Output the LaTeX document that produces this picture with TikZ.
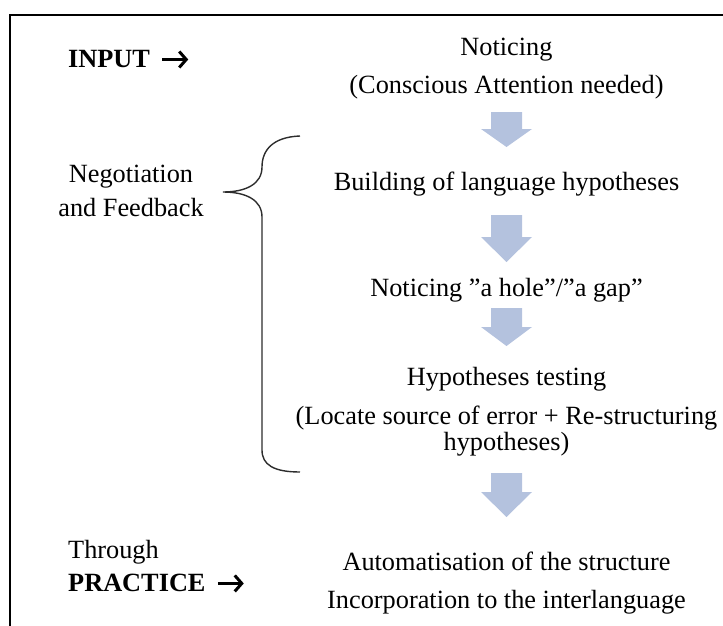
\documentclass[tikz,border=0pt]{standalone}
\usepackage{fontspec}
\setmainfont{Liberation Serif}
\usetikzlibrary{arrows.meta}
\definecolor{flowblue}{RGB}{180,194,222}
\definecolor{bracegray}{RGB}{45,45,45}
\newcommand{\dq}{{\char"0022}}
% block arrow pointing down: top, start of head, tip (y values)
\newcommand{\flowarrow}[3]{%
  \fill[blockarrow] (491,#1) -- (522,#1) -- (522,#2) -- (532,#2) -- (506.5,#3)
    -- (481,#2) -- (491,#2) -- cycle;}
\begin{document}
\begin{tikzpicture}[x=1pt,y=-1pt,
  txt/.style={font=\fontsize{26.3}{30}\selectfont, inner sep=0pt, anchor=base},
  boldtxt/.style={txt, font=\fontsize{26.3}{30}\selectfont\bfseries, anchor=base west},
  blockarrow/.style={fill=flowblue},
  frame/.style={line width=2pt, black},
  pointer/.style={line width=3pt, -{Straight Barb[length=7pt,width=16pt]}},
  bracestyle/.style={line width=1.4pt, bracegray}]
\useasboundingbox (0,0) rectangle (723,626);

% outer frame (open to the right and bottom)
\draw[frame] (723,15.5) -- (10,15.5) -- (10,626);

% main column
\node[txt] (notice)  at (506.5,56)  {Noticing};
\node[txt] (consc)   at (506.5,93)  {(Conscious Attention needed)};
\node[txt] (build)   at (506.5,190) {Building of language hypotheses};
\node[txt] (gap)     at (506.5,296) {Noticing \dq a hole\dq/\dq a gap\dq};
\node[txt] (test)    at (506.5,385) {Hypotheses testing};
\node[txt] (locate)  at (506.5,424) {(Locate source of error + Re-structuring};
\node[txt] (hyp)     at (506.5,450) {hypotheses)};
\node[txt] (auto)    at (506.5,570) {Automatisation of the structure};
\node[txt] (incorp)  at (506.5,608) {Incorporation to the interlanguage};

% block arrows between the stages
\flowarrow{112}{129}{147}
\flowarrow{215}{237}{262}
\flowarrow{308}{327}{346}
\flowarrow{473}{492}{517}

% left column
\node[boldtxt] (input) at (68,67) {INPUT};
\coordinate (inA) at ([xshift=12pt,yshift=-1pt]input.east);
\coordinate (inB) at ([xshift=38pt,yshift=-1pt]input.east);
\draw[pointer] (inA) -- (inB);

\node[txt] (nego) at (131,182) {Negotiation};
\node[txt] (feed) at (131,216) {and Feedback};

\node[txt, anchor=base west] (through) at (68,558) {Through};
\node[boldtxt] (practice) at (68,591) {PRACTICE};
\coordinate (prA) at ([xshift=12pt,yshift=-1pt]practice.east);
\coordinate (prB) at ([xshift=38pt,yshift=-1pt]practice.east);
\draw[pointer] (prA) -- (prB);

% curly brace spanning the middle stages
\draw[bracestyle] (300,136) .. controls (273,137) and (262,150) .. (262,167)
  .. controls (262,184) and (246,192) .. (223,192)
  .. controls (246,192) and (262,200) .. (262,217)
  -- (262,450) .. controls (262,465) and (274,472) .. (300,472);
\end{tikzpicture}
\end{document}
